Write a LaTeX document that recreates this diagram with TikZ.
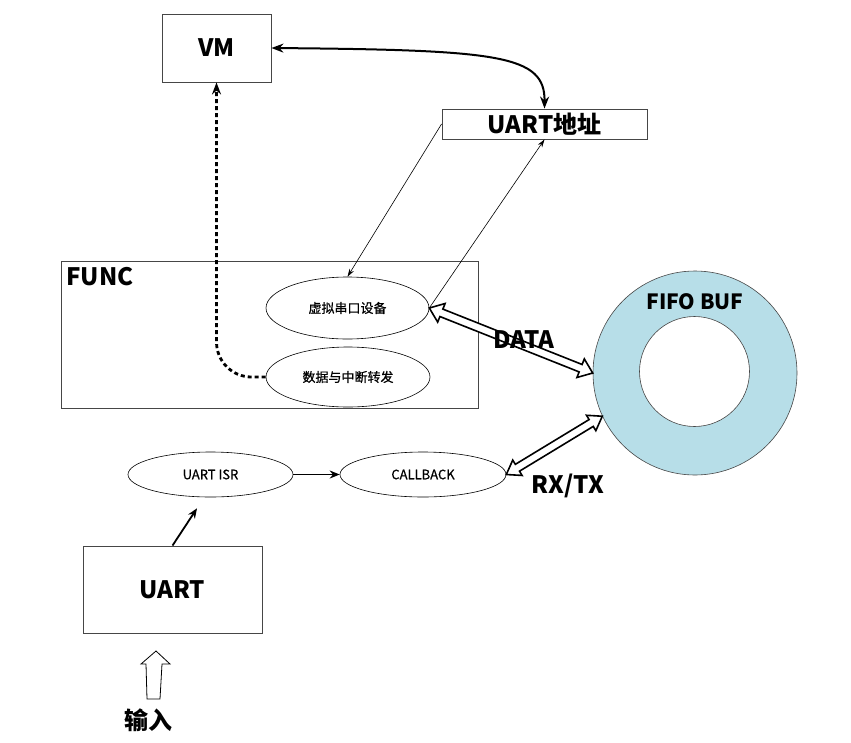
\documentclass[tikz,border=0pt]{standalone}
\usepackage{fontspec}
\setmainfont{Noto Sans CJK SC}
\newfontfamily\medfont{Noto Sans CJK SC}[FakeBold=0.6]
\usetikzlibrary{arrows.meta,calc,shapes.geometric}
\definecolor{fifoblue}{RGB}{183,222,232}
\definecolor{edgegray}{RGB}{70,70,70}
\newcommand\fatdarrow[5]{% start, end, head length, head half width, shaft half width
  \draw[fat] (#1)
  -- ($(#1)!#3!(#2)!#4!90:(#2)$)
  -- ($(#1)!#3!(#2)!#5!90:(#2)$)
  -- ($(#2)!#3!(#1)!#5!-90:(#1)$)
  -- ($(#2)!#3!(#1)!#4!-90:(#1)$)
  -- (#2)
  -- ($(#2)!#3!(#1)!#4!90:(#1)$)
  -- ($(#2)!#3!(#1)!#5!90:(#1)$)
  -- ($(#1)!#3!(#2)!#5!-90:(#2)$)
  -- ($(#1)!#3!(#2)!#4!-90:(#2)$)
  -- cycle;}
\begin{document}
\begin{tikzpicture}[x=1pt,y=-1pt,
  box/.style={draw=edgegray,line width=0.9pt,fill=white,inner sep=0pt},
  oval/.style={ellipse,draw=black,line width=0.6pt,fill=white,inner sep=0pt,font=\medfont\fontsize{13}{15}\selectfont},
  big/.style={font=\fontsize{24}{28}\selectfont\bfseries},
  thickarrow/.style={line width=2pt,-{Stealth[length=12pt,width=9pt]}},
  thinarrow/.style={line width=0.6pt,-{Stealth[length=8pt,width=5pt]}},
  fat/.style={draw=black,line width=1.6pt,fill=white,line join=miter},
]
\useasboundingbox[fill=white] (0,0) rectangle (851,742);

% boxes
\node[box,big,minimum width=109pt,minimum height=68pt] (vm) at (216.5,48) {VM};
\node[box,big,minimum width=205pt,minimum height=30pt] (addr) at (544.5,124) {UART地址};
\node[box,minimum width=417pt,minimum height=147pt] (func) at (269.5,334.5) {};
\node[big,anchor=base west,inner sep=0pt] (funcl) at (66,285) {FUNC};
\node[box,big,minimum width=179pt,minimum height=87pt] (uart) at (172.5,589.5) {UART};

% ellipses
\node[oval,minimum width=163pt,minimum height=62pt] (vs) at (347.5,308) {虚拟串口设备};
\node[oval,minimum width=164pt,minimum height=60pt] (df) at (348,377) {数据与中断转发};
\node[oval,minimum width=165pt,minimum height=45pt] (isr) at (210.5,474.5) {UART ISR};
\node[oval,minimum width=166pt,minimum height=45pt] (cb) at (423,474.5) {CALLBACK};

% FIFO ring
\node[circle,draw=edgegray,line width=0.6pt,fill=fifoblue,minimum size=204pt,inner sep=0pt] (fifo) at (695,373) {};
\node[circle,draw=edgegray,line width=0.6pt,fill=white,minimum size=110pt,inner sep=0pt] (fifoin) at (694.5,371.5) {};
\node[font=\fontsize{21}{25}\selectfont\bfseries] (fifol) at (695,301.5) {FIFO BUF};

% connectors
\draw[thickarrow,{Stealth[length=12pt,width=9pt]}-{Stealth[length=12pt,width=9pt]}]
  (vm.east) .. controls (500,50) and (545,55) .. (addr.north);
\draw[line width=2.8pt,dash pattern=on 4pt off 3pt,rounded corners=35pt,
  -{Stealth[length=12pt,width=9pt]}] (df.west) -| (vm.south);
\draw[thinarrow] (addr.west) -- (vs.north);
\draw[thinarrow] (vs.east) -- (addr.south);
\draw[line width=1.8pt,-{Stealth[length=10pt,width=8pt]}] (isr.east) -- (cb.west);
\draw[line width=1.8pt,-{Stealth[length=10pt,width=8pt]}] (uart.north) -- ($(isr.south)+(-13.5,11)$);

% fat double arrows
\coordinate (d1) at (vs.east);
\coordinate (d2) at (fifo.west);
\coordinate (r1) at (cb.east);
\coordinate (r2) at (fifo.205);
\fatdarrow{d1}{d2}{13pt}{10pt}{4pt}
\fatdarrow{r1}{r2}{13pt}{9pt}{4pt}
\node[big] (datal) at (524,340) {DATA};
\node[big] (rxtx) at (568,486) {RX/TX};

% input arrow
\coordinate (intip) at (156,651);
\draw[line width=0.8pt,fill=white] (154,699) -- (147,699) -- (146,664) -- (141,664) -- (intip)
  -- (170,664) -- (162,664) -- (160,699) -- cycle;
\node[big] (input) at (148,720) {输入};
\end{tikzpicture}
\end{document}
